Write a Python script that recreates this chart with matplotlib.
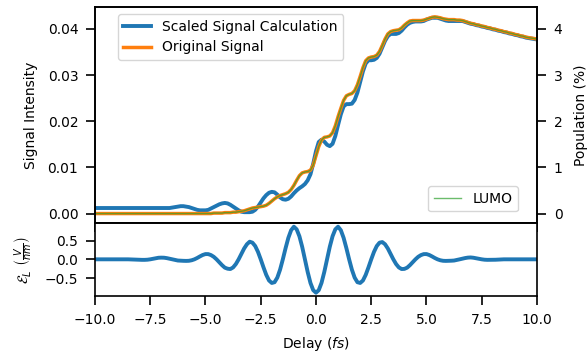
import numpy as np
import matplotlib
matplotlib.use("Agg")
import matplotlib.pyplot as plt

# ---------------- data ----------------
delay_fs = np.linspace(-10.0, 10.0, 161)  # 0.125 fs sampling grid

# Laser field (V/nm)
field_neg = [0.0] * 12 + [
    0.0, -0.003, -0.007, -0.011, -0.012, -0.014, -0.014, -0.01,
    0.0, 0.013, 0.028, 0.042, 0.045, 0.043, 0.032, 0.016,
    0.0, -0.017, -0.032, -0.037, -0.04, -0.042, -0.039, -0.025,
    0.0, 0.036, 0.078, 0.116, 0.14, 0.139, 0.113, 0.067,
    0.0, -0.077, -0.156, -0.222, -0.25, -0.259, -0.216, -0.126,
    0.0, 0.147, 0.29, 0.402, 0.47, 0.444, 0.354, 0.199,
    0.0, -0.214, -0.414, -0.564, -0.63, -0.61, -0.488, -0.276,
    0.0, 0.299, 0.573, 0.776, 0.87, 0.80, 0.615, 0.335,
    0.0, -0.339, -0.629, -0.822,
]
field_pos = [
    -0.89, -0.822, -0.629, -0.339, 0.0, 0.335, 0.615, 0.80,
    0.87, 0.776, 0.573, 0.299, 0.0, -0.276, -0.488, -0.61,
    -0.63, -0.564, -0.414, -0.214, 0.0, 0.199, 0.354, 0.444,
    0.46, 0.402, 0.29, 0.147, 0.0, -0.126, -0.216, -0.259,
    -0.255, -0.222, -0.156, -0.077, 0.0, 0.067, 0.113, 0.139,
    0.14, 0.116, 0.078, 0.036, 0.0, -0.025, -0.039, -0.042,
    -0.04, -0.037, -0.032, -0.017, 0.0, 0.017, 0.034, 0.046,
    0.05, 0.042, 0.028, 0.013, 0.0, -0.01, -0.014, -0.014,
    -0.012, -0.011, -0.007, -0.003, 0.0,
] + [0.0] * 12
field_v_per_nm = field_neg + field_pos

# Original signal (signal intensity)
original_signal = [0.0] * 41 + [
    0.0, 0.0, 0.0001, 0.0001, 0.0001, 0.0001, 0.0002, 0.0002,
    0.0002, 0.0003, 0.0003, 0.0004, 0.0005, 0.0006, 0.0008, 0.0010,
    0.0012, 0.0013, 0.0014, 0.0015, 0.0016, 0.0018, 0.0022, 0.0027,
    0.0032, 0.0036, 0.0039, 0.0041, 0.0043, 0.0046, 0.0052, 0.0061,
    0.0072, 0.0082, 0.0088, 0.0090, 0.0091, 0.0094, 0.0105, 0.0125,
    0.0145, 0.0159, 0.0165, 0.0166, 0.0168, 0.0175, 0.0190, 0.0210,
    0.0228, 0.0245, 0.0255, 0.0258, 0.0260, 0.0266, 0.0279, 0.0297,
    0.0316, 0.0331, 0.0337, 0.0339, 0.0340, 0.0343, 0.0351, 0.0364,
    0.0378, 0.0389, 0.0394, 0.0396, 0.0397, 0.0398, 0.0402, 0.0408,
    0.0413, 0.0417, 0.0418, 0.0418, 0.0418, 0.0418, 0.0419, 0.0421,
    0.0423, 0.0425, 0.0426, 0.0425, 0.0424, 0.0422, 0.0421, 0.0420,
    0.0420, 0.0420, 0.0419, 0.0419, 0.0418, 0.0416, 0.0414, 0.0412,
    0.0411, 0.0409, 0.0408, 0.0406, 0.0405, 0.0403, 0.0402, 0.0400,
    0.0399, 0.0397, 0.0396, 0.0394, 0.0393, 0.0391, 0.0390, 0.0388,
    0.0387, 0.0385, 0.0384, 0.0382, 0.0381, 0.0380, 0.0379, 0.0378,
]

# Scaled signal calculation
scaled_signal = [0.0012] * 27 + [
    0.0012, 0.0013, 0.0014, 0.0015, 0.0016, 0.0016, 0.0015, 0.0014,
    0.0012, 0.0010, 0.0008, 0.0007, 0.0007, 0.0007, 0.0008, 0.0011,
    0.0014, 0.0017, 0.0020, 0.0022, 0.0023, 0.0022, 0.0019, 0.0015,
    0.0011, 0.0007, 0.0004, 0.0003, 0.0003, 0.0003, 0.0004, 0.0008,
    0.0015, 0.0024, 0.0033, 0.0040, 0.0045, 0.0047, 0.0046, 0.0041,
    0.0035, 0.0031, 0.0030, 0.0032, 0.0037, 0.0044, 0.0050, 0.0055,
    0.0059, 0.0064, 0.0072, 0.0085, 0.0108, 0.0135, 0.0155, 0.0160,
    0.0156, 0.0149, 0.0146, 0.0151, 0.0168, 0.0192, 0.0215, 0.0232,
    0.0237, 0.0237, 0.0238, 0.0246, 0.0262, 0.0285, 0.0308, 0.0325,
    0.0332, 0.0332, 0.0333, 0.0337, 0.0346, 0.0360, 0.0374, 0.0384,
    0.0389, 0.0389, 0.0389, 0.0391, 0.0396, 0.0403, 0.0409, 0.0413,
    0.0415, 0.0416, 0.0416, 0.0416, 0.0417, 0.0420, 0.0422, 0.0424,
    0.0424, 0.0424, 0.0422, 0.0420, 0.0418, 0.0417, 0.0417, 0.0417,
    0.0417, 0.0417,
    0.0417, 0.0415, 0.0413, 0.0411, 0.0410, 0.0408, 0.0407, 0.0405,
    0.0404, 0.0402, 0.0401, 0.0399, 0.0398, 0.0396, 0.0395, 0.0393,
    0.0392, 0.0390, 0.0389, 0.0387, 0.0386, 0.0384, 0.0383, 0.0381,
    0.0380, 0.0379, 0.0378, 0.0377,
]

# LUMO population (%)
lumo_population_pct = [0.0] * 41 + [
    0.0, 0.0, 0.01, 0.01, 0.01, 0.01, 0.02, 0.02,
    0.02, 0.03, 0.03, 0.04, 0.05, 0.06, 0.08, 0.10,
    0.12, 0.13, 0.14, 0.15, 0.16, 0.18, 0.22, 0.27,
    0.32, 0.36, 0.39, 0.41, 0.43, 0.46, 0.52, 0.61,
    0.72, 0.82, 0.88, 0.90, 0.91, 0.94, 1.05, 1.25,
    1.45, 1.59, 1.65, 1.66, 1.68, 1.75, 1.90, 2.10,
    2.28, 2.45, 2.55, 2.58, 2.60, 2.66, 2.79, 2.97,
    3.16, 3.31, 3.37, 3.39, 3.40, 3.43, 3.51, 3.64,
    3.78, 3.89, 3.94, 3.96, 3.97, 3.98, 4.02, 4.08,
    4.13, 4.17, 4.18, 4.18, 4.18, 4.18, 4.19, 4.21,
    4.23, 4.25, 4.26, 4.25, 4.24, 4.22, 4.21, 4.20,
    4.20, 4.20, 4.19, 4.19, 4.18, 4.16, 4.14, 4.12,
    4.11, 4.09, 4.08, 4.06, 4.05, 4.03, 4.02, 4.00,
    3.99, 3.97, 3.96, 3.94, 3.93, 3.91, 3.90, 3.88,
    3.87, 3.85, 3.84, 3.82, 3.81, 3.80, 3.79, 3.78,
]

xticks = [-10.0, -7.5, -5.0, -2.5, 0.0, 2.5, 5.0, 7.5, 10.0]

# ---------------- figure ----------------
plt.rcParams['font.family'] = ['DejaVu Sans']
fig = plt.figure(figsize=(5.87, 3.56), dpi=100)
ax = fig.add_axes([0.1618, 0.3725, 0.7530, 0.6078])
axf = fig.add_axes([0.1618, 0.1685, 0.7530, 0.2040], sharex=ax)

tick_kw = dict(length=6.5, width=1.2, pad=5.5)
for a in (ax, axf):
    for s in a.spines.values():
        s.set_linewidth(1.2)
    a.tick_params(**tick_kw)

ax.plot(delay_fs, scaled_signal, color='#1f77b4', lw=2.8, label='Scaled Signal Calculation')
ax.plot(delay_fs, original_signal, color='#ff7f0e', lw=2.5, label='Original Signal')
ax.set_ylabel('Signal Intensity', labelpad=7)
ax.set_xlim(-10, 10)
ax.set_xticks(xticks)
ax.tick_params(axis='x', labelbottom=False)
ax.legend(loc='upper left', bbox_to_anchor=(0.036, 1.0))

axr = ax.twinx()
for s in axr.spines.values():
    s.set_linewidth(1.2)
axr.tick_params(**tick_kw)
axr.plot(delay_fs, lumo_population_pct, color='#2ca02c', lw=1.0, alpha=0.7, label='LUMO')
axr.set_ylabel('Population (%)', labelpad=8)
lo, hi = ax.get_ylim()
axr.set_ylim(lo * 100, hi * 100)
axr.legend(loc='lower right', bbox_to_anchor=(0.973, 0.023))

axf.plot(delay_fs, field_v_per_nm, color='#1f77b4', lw=2.8)
axf.set_xlim(-10, 10)
axf.set_xticks(xticks)
axf.set_yticks([-0.5, 0.0, 0.5])
axf.set_ylabel(r'$\mathcal{E}_L\ \left(\frac{V}{nm}\right)$', labelpad=7)
axf.set_xlabel(r'Delay ($fs$)', labelpad=6)

fig.savefig('out.png', dpi=100)
